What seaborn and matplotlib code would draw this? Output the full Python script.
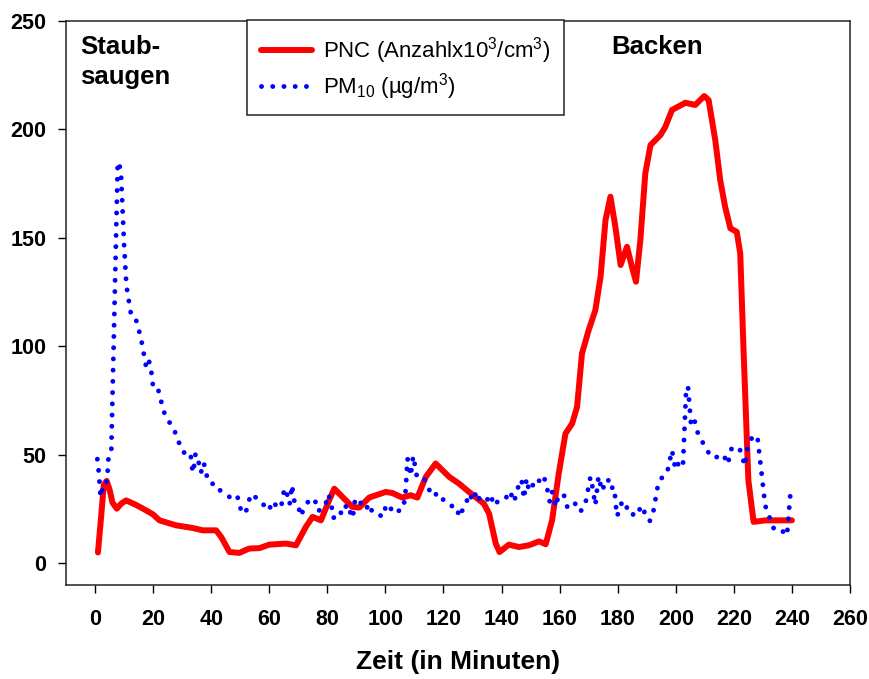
import matplotlib
matplotlib.use("Agg")
import matplotlib.pyplot as plt
from matplotlib.patches import Rectangle
from matplotlib.lines import Line2D
import seaborn as sns
import numpy as np

# ---------------- data ----------------
pnc_x = [1, 2, 3, 4, 5, 6, 7.5, 9, 10.7, 14, 17.6, 20, 22.2, 27.9, 33.6, 37.1, 41.7, 43.5,
         46.3, 49.7, 53.1, 56.6, 60, 65.7, 69.2, 72.6, 74.9, 77.8, 80.6, 82.4, 85.2, 88.6,
         91, 94.4, 100.1, 102.4, 105.8, 108.7, 111, 113.9, 117.3, 122, 125.3, 128.8, 133.9,
         135.7, 138, 139.3, 142.5, 146, 149.4, 152.9, 155.2, 157.4, 159.7, 162, 164.3, 166,
         167.7, 170, 172.3, 174.1, 175.8, 177.5, 179.2, 181, 183.2, 184.9, 186.3, 187.8,
         189.5, 191.3, 194.7, 196.4, 198.7, 203.3, 206.7, 209.8, 211.3, 213.6, 215.3, 217,
         218.8, 221, 222.2, 223.3, 225, 226.8, 230.8, 240]
pnc_y = [5, 20, 36, 38, 34, 28, 25.2, 27.5, 29, 27, 24.4, 22.5, 19.8, 17.5, 16.3, 15.2, 15.2, 12,
         5.2, 4.8, 6.8, 7, 8.6, 9.1, 8.3, 16.8, 21.4, 19.8, 29, 34.4, 30.6, 26,
         25.7, 30.3, 32.9, 32.4, 30.3, 31.4, 30.3, 39.8, 46, 39.8, 36.8, 32.9, 27.5,
         22.9, 9.1, 5.2, 8.6, 7.5, 8.3, 10.1, 8.8, 19.8, 41.4, 59.8, 64.4, 72.1,
         96.7, 107.5, 116.7, 132.1, 158.2, 169, 155.1, 137.5, 145.9, 136.7, 129.8, 149,
         179.7, 192.8, 197.4, 201.2, 209, 212.3, 211.3, 215.4, 213.6, 195.1, 176.7, 164.3,
         154.4, 152.8, 142.9, 99.8, 38.3, 19.1, 19.8, 19.8]

pm_x = [0.8, 1.3, 1.9, 2.7, 3.5, 4.2, 4.6, 5.6, 7.8, 8.3, 9, 10, 10.8, 11.9, 12.4, 13.9, 15.8,
        17.6, 18.4, 19.1, 19.9, 21.3, 23.1, 24, 25.9, 27.4, 28.7, 30, 31.4, 32.8, 33.3, 33.6,
        34.3, 34.6, 35.7, 36.5, 37.3, 38.2, 38.6, 40.1, 41.1, 43, 45.1, 46.3, 47.4, 49.1,
        49.7, 51.6, 52.8, 53.4, 54.5, 56.6, 58.9, 60, 60.9, 62.9, 64, 64.6, 65.2, 66, 66.4,
        67, 67.5, 67.7, 68.3, 68.7, 70.1, 70.7, 72.1, 73.8, 75.8, 76.3, 77.8, 79.5, 80.2,
        80.9, 81.6, 82.1, 83.6, 85.6, 86.6, 87.9, 88.7, 89.2, 89.6, 91, 92.1, 93.3, 94.4,
        95.5, 97, 99, 100.1, 101.3, 102.2, 103, 104.4, 106.2, 107, 107.6, 108.2, 108.7,
        109.2, 109.6, 110.2, 110.8, 112.7, 114.7, 115.6, 117.3, 118.2, 119.9, 122.1, 124.7,
        125.3, 126.5, 127.9, 128.8, 130.3, 131.3, 132.5, 134.5, 136.2, 137.4, 138.8, 141.2,
        142.9, 144.3, 145.9, 146.9, 147.7, 148.6, 149.4, 150.5, 151.1, 152.9, 154.3, 155.4,
        156, 156.6, 157.4, 158, 158.6, 159.5, 161.1, 162, 162.7, 165.2, 167, 168.7, 170.6,
        171.2, 172.3, 173.4, 174.6, 175.8, 176.7, 177.2, 178.8, 179.7, 180.7, 181.5, 182.9,
        183.6, 185.5, 187, 187.9, 189.3, 191, 192.1, 193.9, 195.5, 197, 198.7, 199.9, 201,
        201.9, 202.5, 203.5, 204.2, 205.3, 206.5, 207.3, 208.7, 210.4, 212.1, 214.9, 216.7,
        217.4, 218.5, 219.2, 220.5, 222.2, 223.8, 224.8, 226.5, 228.1, 230.8, 232.9, 234,
        236.8, 238.3, 239.4]
pm_y = [48, 42, 30.5, 35, 35, 39, 48, 52, 184, 185, 178, 147, 128, 119, 114.7, 113.3, 104,
        90.5, 93.6, 91.5, 82.4, 82.4, 73, 68.7, 64.4, 61, 56.4, 51.8, 50.3, 50.9, 46.4, 41.8,
        46, 50.6, 46.4, 41.8, 46.4, 43.4, 39, 38.1, 34.4, 33.7, 31.8, 30.6, 32, 30.6,
        26, 22.7, 26.8, 31.3, 31.8, 28.1, 26.3, 24.4, 28.6, 26, 25.4, 30, 34.4, 33.7, 29.1,
        27.2, 31.8, 36, 32.4, 27.8, 26.3, 21.7, 25.4, 29.4, 29.4, 24.4, 24.4, 27.5, 31.8,
        30, 25.2, 20.8, 24.1, 22.6, 27.2, 23.5, 20.8, 25.4, 30, 28.1, 27.5, 24.8, 27.5,
        23.5, 23.2, 21.4, 26, 23.7, 25.7, 26.3, 24.1, 25.2, 34, 48.3, 44, 40.3,
        46, 49.5, 44.9, 40.3, 40.3, 36, 31.4, 32.1, 29.1, 29.4, 26.6, 26,
        21.4, 24.4, 28.1, 32.1, 28.7, 33.2, 29.4, 28.1, 31.8, 26.6, 28.7, 29.4,
        33.3, 28.3, 36, 38.6, 29.8, 39, 33.7, 34, 38.6, 38, 40.6, 36.8,
        32.4, 28.3, 32.9, 30.6, 26, 30.6, 32.1, 30.1, 25.5, 27.8, 23.7, 26.3, 39.8,
        36, 26.8, 40.1, 33.3, 37.5, 38.9, 34.4, 35.2, 21.7, 24.4, 28.7, 27.2,
        22.9, 22.5, 22.1, 26.6, 23.4, 19.4, 22.6, 36.3, 40.1, 41.7, 52.1, 43.2, 46.3,
        44.4, 46, 78, 81.6, 63.2, 65.6, 61, 57, 53.2, 49, 49, 50,
        45.7, 48.3, 52.9, 54, 52.1, 44.9, 54.1, 58.6, 58.6, 26.6, 18.9, 15.2,
        14.8, 12.8, 31]

x_ticks = list(range(0, 261, 20))
y_ticks = list(range(0, 251, 50))
label_pnc = "PNC (Anzahlx10$^3$/cm$^3$)"
label_pm = "PM$_{10}$ (µg/m$^3$)"
x_label = "Zeit (in Minuten)"
note_left = "Staub-\nsaugen"
note_right = "Backen"

# ---------------- style ----------------
sns.set_style("ticks")
plt.rcParams["font.family"] = ["Liberation Sans", "DejaVu Sans"]
plt.rcParams["mathtext.fontset"] = "custom"
plt.rcParams["mathtext.rm"] = "Liberation Sans"
plt.rcParams["mathtext.it"] = "Liberation Sans:italic"
plt.rcParams["mathtext.bf"] = "Liberation Sans:bold"
for k in ["text.color", "axes.labelcolor", "xtick.color", "ytick.color",
          "axes.edgecolor"]:
    plt.rcParams[k] = "black"

RED = "#ff0000"
BLUE = "#0000ff"
DOTS = (0, (0.01, 2.3))

fig = plt.figure(figsize=(8.7, 6.79), dpi=100)
ax = fig.add_axes([66 / 870, 1 - 585 / 679, (850 - 66) / 870, (585 - 21) / 679])

sns.lineplot(x=pnc_x, y=pnc_y, ax=ax, color=RED, linewidth=4.3, sort=False)
sns.lineplot(x=pm_x, y=pm_y, ax=ax, color=BLUE, linewidth=3.5, sort=False)
lines = ax.get_lines()
lines[0].set_solid_capstyle("round")
lines[0].set_solid_joinstyle("round")
lines[1].set_linestyle(DOTS)
lines[1].set_dash_capstyle("round")

ax.set_xlim(-10, 260)
ax.set_ylim(-10, 250)
ax.set_xticks(x_ticks)
ax.set_yticks(y_ticks)
ax.tick_params(axis="both", direction="out", length=6, width=1.0, color="black",
               labelsize=15.5, top=False, right=False)
ax.tick_params(axis="x", pad=11)
ax.tick_params(axis="y", pad=8)
for lbl in ax.get_xticklabels() + ax.get_yticklabels():
    lbl.set_fontweight("bold")
for s in ax.spines.values():
    s.set_visible(True)
    s.set_linewidth(1.1)
    s.set_color("#222222")

ax.set_xlabel(x_label, fontsize=19, fontweight="bold", labelpad=15)
ax.set_ylabel("")

# annotations
ax.text(0.018, 0.975, note_left, transform=ax.transAxes, ha="left", va="top",
        fontsize=18.5, fontweight="bold", linespacing=1.3)
ax.text(0.696, 0.975, note_right, transform=ax.transAxes, ha="left", va="top",
        fontsize=18.5, fontweight="bold")

# legend box and entries
ax.add_patch(Rectangle((0.231, 0.833), 0.404, 0.169, transform=ax.transAxes,
                       facecolor="white", edgecolor="#222222", linewidth=1.1,
                       clip_on=False, zorder=5))
handles = [Line2D([], [], color=RED, linewidth=4.3, solid_capstyle="round"),
           Line2D([], [], color=BLUE, linewidth=3.5, linestyle=DOTS,
                  dash_capstyle="round")]
leg = ax.legend(handles, [label_pnc, label_pm], loc="upper left",
                bbox_to_anchor=(0.249, 0.975), frameon=False, fontsize=16,
                borderpad=0, borderaxespad=0, handlelength=2.3, handletextpad=0.5,
                labelspacing=0.25)
leg.set_zorder(6)

fig.savefig("out.png", dpi=100)
